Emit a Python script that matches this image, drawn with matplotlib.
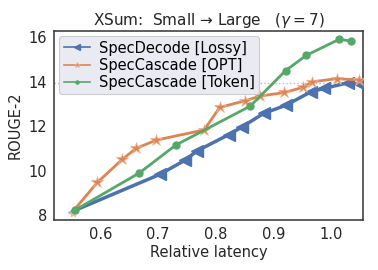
import matplotlib
matplotlib.use('Agg')
from matplotlib import pyplot as plt

# SpecDecode [Lossy]
lossy_x = [0.553, 0.704, 0.747, 0.768, 0.823, 0.846, 0.883, 0.922, 0.965, 0.987, 1.030, 1.054]
lossy_y = [8.18, 9.84, 10.47, 10.89, 11.62, 11.97, 12.57, 12.94, 13.54, 13.69, 13.95, 13.84]

# SpecCascade [OPT]
opt_x = [0.553, 0.595, 0.638, 0.662, 0.697, 0.780, 0.807, 0.851, 0.877, 0.919, 0.951, 0.967, 1.010, 1.048]
opt_y = [8.18, 9.47, 10.50, 11.00, 11.37, 11.83, 12.84, 13.14, 13.35, 13.51, 13.74, 13.99, 14.13, 14.07]

# SpecCascade [Token]
tok_x = [0.556, 0.668, 0.731, 0.860, 0.921, 0.957, 1.014, 1.035]
tok_y = [8.22, 9.90, 11.15, 12.90, 14.49, 15.18, 15.90, 15.82]

large_rouge = 13.93

blue = '#4C72B0'
orange = '#DD8452'
green = '#55A868'

plt.rcParams['font.family'] = 'DejaVu Sans'
fig = plt.figure(figsize=(3.78, 2.70), dpi=100)
ax = fig.add_axes([0.143, 0.185, 0.817, 0.70])

ax.axhline(large_rouge, color='#bbbbbb', ls=':', lw=1, zorder=1)

ax.plot(lossy_x, lossy_y, color=blue, lw=2.5, marker='<', ms=9,
        markevery=slice(1, None), label='SpecDecode [Lossy]', zorder=3)
ax.plot(opt_x, opt_y, color=orange, lw=2, marker='*', ms=9,
        markeredgecolor='#f0b090', markeredgewidth=0.5,
        markevery=slice(1, None), label='SpecCascade [OPT]', zorder=4)
ax.plot(tok_x, tok_y, color=green, lw=2, marker='o', ms=5,
        label='SpecCascade [Token]', zorder=5)
# faint start markers
ax.plot(lossy_x[0] - 0.004, lossy_y[0] - 0.05, marker='<', ms=5, color='#9ab0d8',
        markerfacecolor='none', ls='none', zorder=2)
ax.plot(opt_x[0] - 0.001, opt_y[0] - 0.08, marker='*', ms=5, color='#f0b898',
        ls='none', zorder=2)

ax.set_xlim(0.52, 1.055)
ax.set_ylim(7.78, 16.27)
ax.set_xticks([0.6, 0.7, 0.8, 0.9, 1.0])
ax.set_yticks([8, 10, 12, 14, 16])
ax.tick_params(length=0, labelsize=10.5, labelcolor='#262626', pad=5)
for s in ax.spines.values():
    s.set_color('#333333')
    s.set_linewidth(1.1)

ax.set_xlabel('Relative latency', fontsize=10.5, color='#262626', labelpad=2)
ax.set_ylabel('ROUGE-2', fontsize=10.5, color='#262626', labelpad=4)
ax.set_title(r'XSum:  Small → Large   ($\gamma = 7$)', fontsize=11, color='#262626', pad=4)

leg = ax.legend(loc='upper left', fontsize=10.5, markerscale=0.45, handlelength=1.8,
                facecolor='#eaeaf2', edgecolor='#cccccc', framealpha=1,
                borderaxespad=0.35, labelspacing=0.15, handletextpad=0.6,
                borderpad=0.3)
leg.get_frame().set_linewidth(0.8)
for line in leg.get_lines():
    line.set_linewidth(1.2)

fig.savefig('out.png', dpi=100)
